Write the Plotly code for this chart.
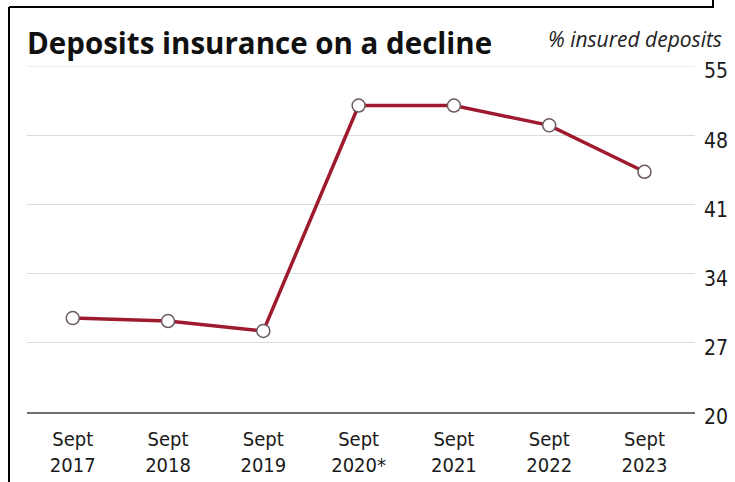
import plotly.graph_objects as go

categories = ["Sept<br>2017", "Sept<br>2018", "Sept<br>2019", "Sept<br>2020*", "Sept<br>2021", "Sept<br>2022", "Sept<br>2023"]
insured_pct = [29.5, 29.2, 28.2, 51.0, 51.0, 49.0, 44.3]
y_ticks = [20, 27, 34, 41, 48, 55]

x_idx = list(range(len(categories)))

W, H = 735, 482
L, R, T, B = 27, 40, 66, 70
pw, ph = W - L - R, H - T - B

def px(x):
    return (x - L) / pw

def py(y):
    return (H - B - y) / ph

XFONT = dict(family="DejaVu Sans Condensed, Roboto, sans-serif", size=20, color="#1a1a1a")
YFONT = dict(family="DejaVu Sans Condensed, Roboto, sans-serif", size=21, color="#1a1a1a")

fig = go.Figure()
fig.add_trace(go.Scatter(
    x=x_idx, y=insured_pct, mode="lines+markers",
    line=dict(color="#9e1a2e", width=3.5),
    marker=dict(size=13, color="white", line=dict(color="#6b5a5e", width=1.5)),
    hoverinfo="skip", showlegend=False,
))

fig.update_layout(
    width=W, height=H,
    margin=dict(l=L, r=R, t=T, b=B),
    paper_bgcolor="white", plot_bgcolor="white",
    xaxis=dict(
        range=[-0.48, 6.53], tickmode="array", tickvals=x_idx, ticktext=categories,
        showgrid=False, zeroline=False, showline=True, linecolor="#6e6e6e", linewidth=2,
        ticks="", tickfont=XFONT, ticklabelstandoff=8, automargin=False,
        fixedrange=True,
    ),
    yaxis=dict(
        range=[20, 55], tickmode="array", tickvals=y_ticks, side="right",
        showgrid=True, gridcolor="#dcdcdc", gridwidth=1, zeroline=False, showline=False,
        ticks="", ticklabelstandoff=8, ticklabelshift=5, automargin=False,
        tickfont=YFONT,
        fixedrange=True,
    ),
    shapes=[
        dict(type="line", xref="paper", yref="y", x0=0, x1=1, y0=55, y1=55, line=dict(color="#dcdcdc", width=1), layer="below"),
        dict(type="line", xref="paper", yref="paper", x0=px(9), x1=px(9), y0=py(7), y1=py(482), line=dict(color="black", width=2)),
        dict(type="line", xref="paper", yref="paper", x0=px(9), x1=px(714), y0=py(7), y1=py(7), line=dict(color="black", width=2)),
        dict(type="line", xref="paper", yref="paper", x0=px(713), x1=px(713), y0=py(0), y1=py(7), line=dict(color="black", width=2)),
    ],
    annotations=[
        dict(text="<b>Deposits insurance on a decline</b>", xref="paper", yref="paper",
             x=px(25), y=py(42), xanchor="left", yanchor="middle", showarrow=False,
             font=dict(family="Open Sans, sans-serif", size=29.5, color="#111")),
        dict(text="<i>% insured deposits</i>", xref="paper", yref="paper",
             x=px(724), y=py(39), xanchor="right", yanchor="middle", showarrow=False,
             font=dict(family="Open Sans, sans-serif", size=21, color="#222")),
    ],
)

fig.write_html("out.html", config={"displayModeBar": False},
               post_script="document.body.style.margin='0';document.body.style.overflow='hidden';")
